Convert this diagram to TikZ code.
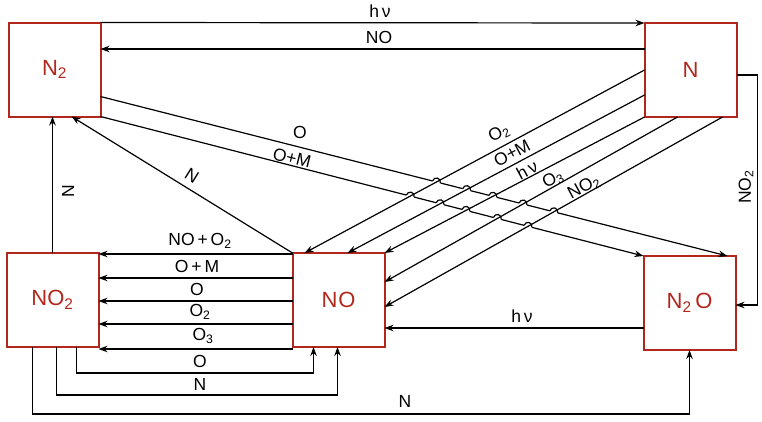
\documentclass[tikz,border=0pt]{standalone}
\usepackage{fontspec}
\setmainfont{Liberation Sans}
\usetikzlibrary{arrows.meta,calc,intersections}
\definecolor{boxred}{RGB}{178,38,28}
\begin{document}
\begin{tikzpicture}[x=1pt,y=1pt,
  box/.style={draw=boxred, line width=2pt, minimum width=92pt, minimum height=94pt,
    inner sep=0pt, outer sep=0pt, text=boxred, font=\fontsize{22}{25}\selectfont},
  arr/.style={line width=1.2pt, -{Stealth[length=9pt,width=6.5pt]}},
  ln/.style={line width=1.2pt},
  lbl/.style={font=\fontsize{17.5}{20}\selectfont, inner sep=1pt},
  hopgap/.style={white, line width=3.5pt},
]
\useasboundingbox (0,0) rectangle (762,-421);
% boxes
\node[box] (N2)  at (54.5,-69.5) {N\textsubscript{2}};
\node[box] (N)   at (690.5,-70)  {N};
\node[box] (NO2) at (52.5,-300)  {NO\textsubscript{2}};
\node[box] (NO)  at (338.5,-300) {N\kern1pt O};
\node[box] (N2O) at (689.5,-303) {N\textsubscript{2}\,O};

% top arrows
\draw[arr] (N2.north east) -- (N.north west);
\node[lbl] (lhv1) at (380,-11) {h\,ν};
\draw[arr] ([yshift=-26pt]N.north west) -- ([yshift=-26.5pt]N2.north east);
\node[lbl] (lno1) at (379,-37) {NO};

% path names for crossings
\path[name path=dA] ([yshift=20pt]N2.south east) -- ([xshift=-8pt]N2O.north east);
\path[name path=dB] (N2.south east) -- (N2O.north west);
\path[name path=r1] (N.west) -- ([xshift=12pt]NO.north west);
\path[name path=r2] ([yshift=22pt]N.south west) -- ([xshift=55pt]NO.north west);
\path[name path=r3] (N.south west) -- (NO.north east);
\path[name path=r4] ([xshift=33pt]N.south west) -- ([yshift=-29pt]NO.north east);
\path[name path=r5] ([xshift=78pt]N.south west) -- ([yshift=-54pt]NO.north east);

% descending lines N2 -> N2O
\draw[arr] ([yshift=20pt]N2.south east) -- ([xshift=-8pt]N2O.north east);
\draw[arr] (N2.south east) -- (N2O.north west);
\node[lbl] (ldo) at (300,-132) {O};
\node[lbl, rotate=-14] (ldom) at (292,-158) {O+M};

% gaps at crossings
\foreach \rl in {r1,r2,r3,r4,r5}{
  \path[name intersections={of=dA and \rl, by=X}];
  \draw[hopgap] ($(X)+(165.8:4pt)$) -- ($(X)+(-14.2:4pt)$);
  \path[name intersections={of=dB and \rl, by=Y}];
  \draw[hopgap] ($(Y)+(165.8:4pt)$) -- ($(Y)+(-14.2:4pt)$);
}

% rising lines N -> NO
\draw[arr] (N.west) -- ([xshift=12pt]NO.north west);
\draw[arr] ([yshift=22pt]N.south west) -- ([xshift=55pt]NO.north west);
\draw[arr] (N.south west) -- (NO.north east);
\draw[arr] ([xshift=33pt]N.south west) -- ([yshift=-29pt]NO.north east);
\draw[arr] ([xshift=78pt]N.south west) -- ([yshift=-54pt]NO.north east);
\node[lbl, rotate=28] (lr1) at (499,-133) {O\textsubscript{2}};
\node[lbl, rotate=28] (lr2) at (512,-153) {O+M};
\node[lbl, rotate=28] (lr3) at (527,-170) {h\,ν};
\node[lbl, rotate=28] (lr4) at (553,-179) {O\textsubscript{3}};
\node[lbl, rotate=28] (lr5) at (584,-187) {NO\textsubscript{2}};

% hops
\foreach \rl in {r1,r2,r3,r4,r5}{
  \path[name intersections={of=dA and \rl, by=X}];
  \draw[ln] ($(X)+(165.8:4pt)$) arc[start angle=165.8, end angle=-14.2, radius=4pt];
  \path[name intersections={of=dB and \rl, by=Y}];
  \draw[ln] ($(Y)+(165.8:4pt)$) arc[start angle=165.8, end angle=-14.2, radius=4pt];
}

% NO -> N2 and NO2 -> N2
\draw[arr] (NO.north west) -- ([xshift=17pt]N2.south);
\node[lbl, rotate=-32] (ln1) at (192,-176) {N};
\draw[arr] (NO2.north) -- (NO2.north |- N2.south);
\node[lbl, rotate=90] (ln2) at (68,-191) {N};

% N -> N2O
\draw[arr] ([yshift=-5pt]N.east) -- ++(21pt,0) |- ([yshift=-2pt]N2O.east);
\node[lbl, rotate=90] (lno2) at (746,-187) {NO\textsubscript{2}};

% NO -> NO2
\draw[arr] ([yshift=-1pt]NO.north west) -- ([yshift=-1pt]NO2.north east);
\draw[arr] ([yshift=-25pt]NO.north west) -- ([yshift=-25pt]NO2.north east);
\draw[arr] ([yshift=-48pt]NO.north west) -- ([yshift=-48pt]NO2.north east);
\draw[arr] ([yshift=-71pt]NO.north west) -- ([yshift=-71pt]NO2.north east);
\draw[arr] ([yshift=-2pt]NO.south west) -- ([yshift=-2pt]NO2.south east);
\node[lbl] (lh1) at (200,-241) {NO\,+\,O\textsubscript{2}};
\node[lbl] (lh2) at (197,-266) {O\,+\,M};
\node[lbl] (lh3) at (197,-289) {O};
\node[lbl] (lh4) at (200,-312) {O\textsubscript{2}};
\node[lbl] (lh5) at (203,-336) {O\textsubscript{3}};

% bottom loops NO2 -> NO, NO2 -> N2O
\draw[arr] ([xshift=-22pt]NO2.south east) -- ++(0,-26pt) -| ([xshift=21pt]NO.south west);
\node[lbl] (lb1) at (200,-361) {O};
\draw[arr] ([xshift=-42pt]NO2.south east) -- ++(0,-48pt) -| ([xshift=45pt]NO.south west);
\node[lbl] (lb2) at (200,-384) {N};
\draw[arr] ([xshift=-20pt]NO2.south) -- ++(0,-67pt) -| (N2O.south);
\node[lbl] (lb3) at (405,-401) {N};

% N2O -> NO
\draw[arr] ([yshift=-25pt]N2O.west) -- ([yshift=-28pt]NO.east);
\node[lbl] (lhv2) at (522,-316) {h\,ν};
\end{tikzpicture}
\end{document}
